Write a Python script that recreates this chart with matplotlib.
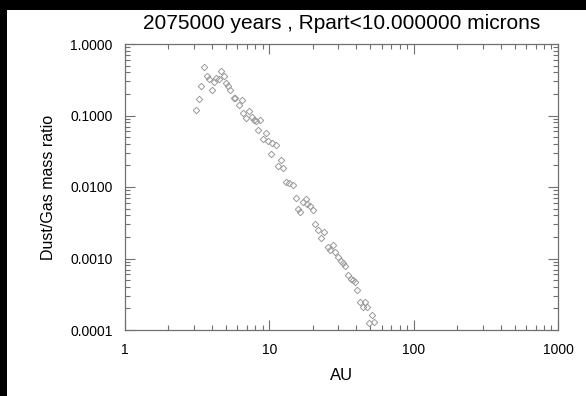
import matplotlib
matplotlib.use("Agg")
import matplotlib.pyplot as plt
from matplotlib.patches import Rectangle
from matplotlib.ticker import FixedLocator, LogLocator, NullFormatter

# radial distance (AU) and dust/gas mass ratio, one entry per radial bin
au = [3.104, 3.231, 3.373, 3.526, 3.682, 3.832, 3.988, 4.118, 4.292, 4.459,
      4.648, 4.830, 5.010, 5.196, 5.365, 5.664, 5.783, 6.193, 6.436, 6.602,
      6.892, 7.173, 7.547, 7.830, 8.083, 8.386, 8.616, 9.040, 9.528, 9.838,
      10.22, 10.47, 11.04, 11.54, 11.99, 12.50, 13.05, 13.75, 14.52, 15.30,
      15.80, 16.31, 17.03, 17.81, 18.38, 19.13, 20.07, 20.72, 21.63, 22.69,
      23.92, 25.62, 26.45, 27.61, 28.51, 30.06, 31.22, 32.54, 33.44, 35.25,
      36.92, 38.18, 39.36, 40.70, 42.69, 44.36, 46.02, 47.27, 49.20, 51.21,
      53.03]
ratio = [0.1194, 0.1685, 0.2602, 0.4722, 0.3534, 0.3261, 0.2273, 0.2970, 0.3314, 0.3209,
         0.4232, 0.3591, 0.2848, 0.2561, 0.2303, 0.1785, 0.1740, 0.1425, 0.1647, 0.1094,
         0.0914, 0.1167, 0.0953, 0.0857, 0.0838, 0.0627, 0.0857, 0.0472, 0.0564, 0.0444,
         0.0290, 0.0419, 0.0387, 0.0195, 0.0239, 0.0183, 0.01175, 0.01138, 0.01066, 0.00696,
         0.00500, 0.00444, 0.00623, 0.00673, 0.00582, 0.00542, 0.00483, 0.00304, 0.00250, 0.00192,
         0.00237, 0.00145, 0.00130, 0.00156, 0.00123, 0.00104, 0.000931, 0.000857, 0.000785, 0.000588,
         0.000520, 0.000500, 0.000469, 0.000362, 0.000246, 0.000208, 0.000246, 0.000208, 0.000124, 0.000162,
         0.000131]

x_ticks = [1, 10, 100, 1000]
x_ticklabels = ["1", "10", "100", "1000"]
y_ticks = [1e-4, 1e-3, 1e-2, 1e-1, 1.0]
y_ticklabels = ["0.0001", "0.0010", "0.0100", "0.1000", "1.0000"]

plt.rcParams["font.family"] = ["Liberation Sans", "DejaVu Sans"]

W, H = 586, 396
fig = plt.figure(figsize=(W / 100, H / 100), dpi=100, facecolor="white")
ax = fig.add_axes([125 / W, 1 - 330 / H, 433 / W, 286 / H])

ax.plot(au, ratio, ls="none", marker="D", ms=3.3, mfc="none",
        mec="#9a9a9a", mew=0.7)

ax.set_xscale("log")
ax.set_yscale("log")
ax.set_xlim(1, 1000)
ax.set_ylim(1e-4, 1.0)

ax.xaxis.set_major_locator(FixedLocator(x_ticks))
ax.set_xticklabels(x_ticklabels)
ax.yaxis.set_major_locator(FixedLocator(y_ticks))
ax.set_yticklabels(y_ticklabels)
for axis in (ax.xaxis, ax.yaxis):
    axis.set_minor_locator(LogLocator(base=10, subs=range(2, 10)))
    axis.set_minor_formatter(NullFormatter())

FRAME = "#707070"
for s in ax.spines.values():
    s.set_color(FRAME)
    s.set_linewidth(0.9)
ax.tick_params(which="both", direction="in", top=True, right=True,
               color=FRAME, width=0.8, labelsize=10, labelcolor="black")
ax.tick_params(which="major", length=7, pad=9)
ax.tick_params(which="minor", length=3.5)

ax.set_xlabel("AU", fontsize=12, labelpad=8)
ax.set_ylabel("Dust/Gas mass ratio", fontsize=11.5, labelpad=10)
ax.set_title("2075000 years , Rpart<10.000000 microns", fontsize=15, pad=11)

# dark frame strips along the top and left edges of the image
fig.add_artist(Rectangle((0, 1 - 10 / H), 1, 10 / H, transform=fig.transFigure,
                         color="black", lw=0, zorder=10))
fig.add_artist(Rectangle((0, 0), 7 / W, 1, transform=fig.transFigure,
                         color="black", lw=0, zorder=10))

fig.savefig("out.png", dpi=100, facecolor="white")
